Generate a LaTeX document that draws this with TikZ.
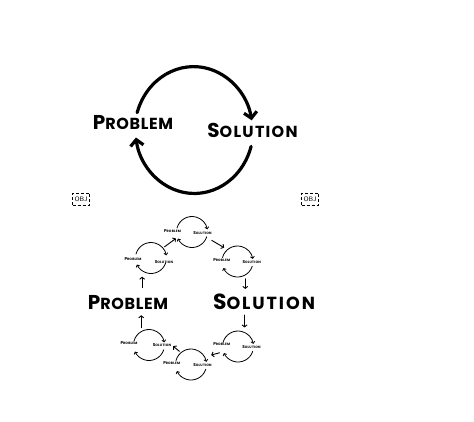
\documentclass[tikz,border=0pt]{standalone}
\usepackage{graphicx}
\usepackage{fontspec}
\setmainfont{Poppins}
\usetikzlibrary{arrows.meta}
\usetikzlibrary{shapes.geometric}
\newcommand{\capfirst}[1]{\scalebox{1.25}{#1}}

\begin{document}
\begin{tikzpicture}[x=1pt,y=-1pt,
  word/.style={inner sep=1pt,font=\fontsize{16}{16}\selectfont\bfseries\addfontfeatures{LetterSpace=4}},
  wideword/.style={word,font=\fontsize{16}{16}\selectfont\bfseries\addfontfeatures{LetterSpace=8}},
  widerword/.style={word,font=\fontsize{17.5}{17.5}\selectfont\bfseries\addfontfeatures{LetterSpace=11}},
  tinyword/.style={inner sep=0.3pt,font=\fontsize{3.3}{3.3}\selectfont\bfseries\addfontfeatures{LetterSpace=6}},
  ring/.style={circle,minimum size=31pt,inner sep=0pt,outer sep=0pt},
  bigarc/.style={line width=3.2pt,line cap=round,line join=round,-{Straight Barb[length=6pt,width=13pt]}},
  tinyarc/.style={line width=0.8pt,line cap=round,-{Straight Barb[length=1.8pt,width=4pt]}},
  link/.style={line width=0.9pt,line cap=round,-{Straight Barb[length=2pt,width=5pt]},shorten <=2pt,shorten >=2pt},
  objbox/.style={draw,densely dashed,line width=0.6pt,minimum width=17pt,minimum height=12pt,inner sep=1pt,font=\sffamily\fontsize{6.5}{6.5}\selectfont}]
  \useasboundingbox (0,0) rectangle (474,421);
  % big cycle
  \node[ellipse,minimum width=118pt,minimum height=130pt,inner sep=0pt,outer sep=0pt] (r0) at (194,130) {};
  \node[word] (P1) at (133,123) {\capfirst{P}ROBLEM};
  \node[wideword] (S1) at (252.5,130) {\capfirst{S}OLUTION};
  \draw[bigarc] (r0.163) arc[start angle=163,end angle=10,x radius=59pt,y radius=65pt];
  \draw[bigarc] (r0.-16) arc[start angle=-16,end angle=-172,x radius=59pt,y radius=65pt];
  \node[objbox] (obj1) at (81,199) {OBJ};
  \node[objbox] (obj2) at (310,199) {OBJ};
  % cycle of cycles
  \node[word] (P2) at (128,303) {\capfirst{P}ROBLEM};
  \node[widerword] (S2) at (264,302) {\capfirst{S}OLUTION};
  \node[ring] (c1) at (151,258) {};
  \node[tinyword] (p1) at (133,259) {\capfirst{P}ROBLEM};
  \node[tinyword] (s1) at (164,262) {\capfirst{S}OLUTION};
  \draw[tinyarc] (c1.165) arc[start angle=165,end angle=10,radius=15.5pt];
  \draw[tinyarc] (c1.-18) arc[start angle=-18,end angle=-155,radius=15.5pt];
  \node[ring] (c2) at (192,232) {};
  \node[tinyword] (p2) at (172.5,231) {\capfirst{P}ROBLEM};
  \node[tinyword] (s2) at (202.5,233) {\capfirst{S}OLUTION};
  \draw[tinyarc] (c2.165) arc[start angle=165,end angle=10,radius=15.5pt];
  \draw[tinyarc] (c2.-18) arc[start angle=-18,end angle=-155,radius=15.5pt];
  \node[ring] (c3) at (237.5,261.5) {};
  \node[tinyword] (p3) at (221.7,260) {\capfirst{P}ROBLEM};
  \node[tinyword] (s3) at (251.7,262) {\capfirst{S}OLUTION};
  \draw[tinyarc] (c3.165) arc[start angle=165,end angle=10,radius=15.5pt];
  \draw[tinyarc] (c3.-18) arc[start angle=-18,end angle=-155,radius=15.5pt];
  \node[ring] (c4) at (238,346.5) {};
  \node[tinyword] (p4) at (221.7,344) {\capfirst{P}ROBLEM};
  \node[tinyword] (s4) at (251.5,346.7) {\capfirst{S}OLUTION};
  \draw[tinyarc] (c4.165) arc[start angle=165,end angle=10,radius=15.5pt];
  \draw[tinyarc] (c4.-18) arc[start angle=-18,end angle=-155,radius=15.5pt];
  \node[ring] (c5) at (191,364.5) {};
  \node[tinyword] (p5) at (171.7,363) {\capfirst{P}ROBLEM};
  \node[tinyword] (s5) at (202.5,365) {\capfirst{S}OLUTION};
  \draw[tinyarc] (c5.165) arc[start angle=165,end angle=10,radius=15.5pt];
  \draw[tinyarc] (c5.-18) arc[start angle=-18,end angle=-155,radius=15.5pt];
  \node[ring] (c6) at (149,345) {};
  \node[tinyword] (p6) at (129,343) {\capfirst{P}ROBLEM};
  \node[tinyword] (s6) at (162,345) {\capfirst{S}OLUTION};
  \draw[tinyarc] (c6.165) arc[start angle=165,end angle=10,radius=15.5pt];
  \draw[tinyarc] (c6.-18) arc[start angle=-18,end angle=-155,radius=15.5pt];
  % arrows between cycles
  \draw[link] (c1.40) -- (c2.200);
  \draw[link,shorten <=6pt,shorten >=4pt] (c2.-20) -- (c3.130);
  \draw[link,shorten <=4pt,shorten >=4pt] (c3.300) -- (c3.300 |- S2.north);
  \draw[link,shorten <=4pt,shorten >=5pt] (c4.65 |- S2.south) -- (c4.65);
  \draw[link,shorten <=4pt,shorten >=7pt] (c4.200) -- (c5.30);
  \draw[link] (c5.130) -- (s6.east);
  \draw[link,shorten <=4pt,shorten >=4pt] (c6.120) -- (c6.120 |- P2.south);
  \draw[link,shorten <=7pt,shorten >=6pt] (c1.235 |- P2.north) -- (c1.235);
\end{tikzpicture}
\end{document}
